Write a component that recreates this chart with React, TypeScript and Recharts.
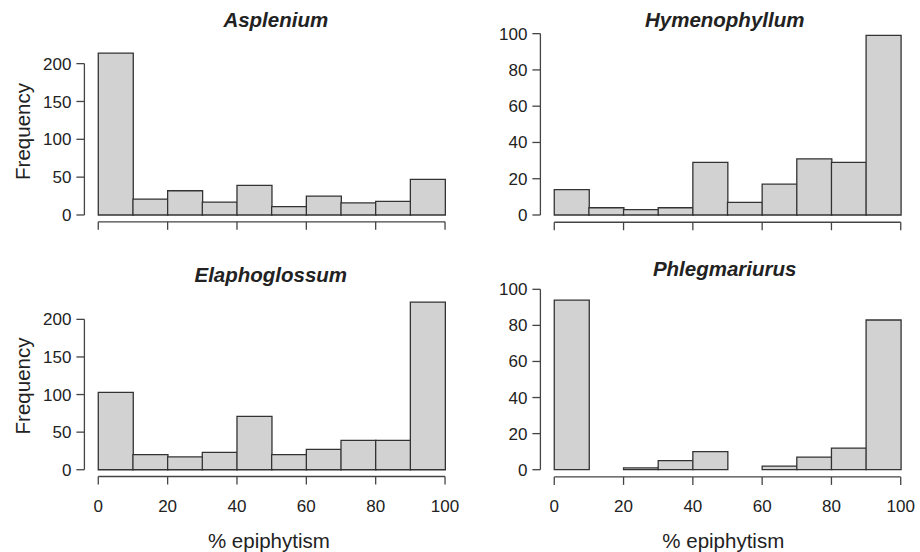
import React from 'react';
import { Bar, BarChart, ReferenceLine, XAxis, YAxis } from 'recharts';

// bin mid points (% epiphytism), 10-wide bins
const binMids = [5, 15, 25, 35, 45, 55, 65, 75, 85, 95];
const xTicks = [0, 20, 40, 60, 80, 100];
const leftTicks = [0, 50, 100, 150, 200];
const rightTicks = [0, 20, 40, 60, 80, 100];

const asplenium = [214, 21, 32, 17, 39, 11, 25, 16, 18, 47];
const hymenophyllum = [14, 4, 3, 4, 29, 7, 17, 31, 29, 99];
const elaphoglossum = [103, 20, 17, 23, 71, 20, 27, 39, 39, 223];
const phlegmariurus = [94, 0, 1, 5, 10, 0, 2, 7, 12, 83];

const FONT = '"Liberation Sans", Arial, Helvetica, sans-serif';
const TEXT = '#222';
const AXIS = '#444';
const BAR_FILL = '#d2d2d2';
const BAR_STROKE = '#333';

interface HistProps {
    values: number[];
    yTicks: number[];
    yMax: number;
    left: number;
    top: number;
    width: number;
    height: number;
    margin: { top: number; right: number; bottom: number; left: number };
    yAxisWidth: number;
    showXLabels: boolean;
}

// keeps the tick marks but draws no label (top row)
const NoLabel = () => <g />;

function Histogram({ values, yTicks, yMax, left, top, width, height, margin, yAxisWidth, showXLabels }: HistProps) {
    const data = binMids.map((mid, i) => ({ mid, count: values[i] }));
    // R style: plot region extends 4% beyond the data range
    const pad = yMax * 0.04;
    const tickStyle = { fill: TEXT, fontSize: 17, fontFamily: FONT };

    return (
        <div style={{ position: 'absolute', left, top }}>
            <BarChart width={width} height={height} data={data} margin={margin} barCategoryGap={0} barGap={0}>
                <XAxis
                    dataKey="mid"
                    type="number"
                    domain={[-4, 104]}
                    allowDataOverflow
                    ticks={xTicks}
                    interval={0}
                    height={30}
                    axisLine={false}
                    tickLine={{ stroke: AXIS, strokeWidth: 1.3 }}
                    tickSize={8}
                    tickMargin={15}
                    tick={showXLabels ? tickStyle : NoLabel}
                />
                <YAxis
                    type="number"
                    domain={[-pad, yMax + pad]}
                    allowDataOverflow
                    ticks={yTicks}
                    interval={0}
                    width={yAxisWidth}
                    axisLine={false}
                    tickLine={{ stroke: AXIS, strokeWidth: 1.3 }}
                    tickSize={8}
                    tickMargin={5}
                    tick={tickStyle}
                />
                <Bar
                    dataKey="count"
                    fill={BAR_FILL}
                    stroke={BAR_STROKE}
                    strokeWidth={1.3}
                    isAnimationActive={false}
                />
                <ReferenceLine
                    segment={[{ x: -4, y: yTicks[0] }, { x: -4, y: yTicks[yTicks.length - 1] }]}
                    stroke={AXIS}
                    strokeWidth={1.3}
                    ifOverflow="visible"
                />
                <ReferenceLine
                    segment={[{ x: xTicks[0], y: -pad }, { x: xTicks[xTicks.length - 1], y: -pad }]}
                    stroke={AXIS}
                    strokeWidth={1.3}
                    ifOverflow="visible"
                />
            </BarChart>
        </div>
    );
}

export default function App() {
    const titleStyle = { fontFamily: FONT, fontSize: 20.5, fontWeight: 700, fontStyle: 'italic', fill: TEXT } as const;
    const labelStyle = { fontFamily: FONT, fontSize: 20.5, fill: TEXT } as const;

    return (
        <div style={{ position: 'absolute', left: 0, top: 0, width: 920, height: 552, background: '#fff' }}>
            <Histogram
                values={asplenium}
                yTicks={leftTicks}
                yMax={225}
                left={0}
                top={0}
                width={460}
                height={260}
                margin={{ top: 37.9, right: 1.1, bottom: 8.2, left: 0 }}
                yAxisWidth={84.4}
                showXLabels={false}
            />
            <Histogram
                values={hymenophyllum}
                yTicks={rightTicks}
                yMax={100}
                left={460}
                top={0}
                width={460}
                height={260}
                margin={{ top: 26.4, right: 5.4, bottom: 7.75, left: 0 }}
                yAxisWidth={80.4}
                showXLabels={false}
            />
            <Histogram
                values={elaphoglossum}
                yTicks={leftTicks}
                yMax={225}
                left={0}
                top={260}
                width={460}
                height={292}
                margin={{ top: 33.8, right: 1.1, bottom: 45.5, left: 0 }}
                yAxisWidth={84.4}
                showXLabels
            />
            <Histogram
                values={phlegmariurus}
                yTicks={rightTicks}
                yMax={100}
                left={460}
                top={260}
                width={460}
                height={292}
                margin={{ top: 22.1, right: 5.4, bottom: 45.1, left: 0 }}
                yAxisWidth={80.4}
                showXLabels
            />
            <svg width={920} height={552} style={{ position: 'absolute', left: 0, top: 0, pointerEvents: 'none' }}>
                <text x={275.8} y={26.7} textAnchor="middle" style={titleStyle}>Asplenium</text>
                <text x={724.7} y={26.7} textAnchor="middle" style={titleStyle}>Hymenophyllum</text>
                <text x={270.8} y={281.7} textAnchor="middle" style={titleStyle}>Elaphoglossum</text>
                <text x={724.7} y={276} textAnchor="middle" style={titleStyle}>Phlegmariurus</text>
                <text x={30} y={131.5} textAnchor="middle" transform="rotate(-90 30 131.5)" style={labelStyle}>Frequency</text>
                <text x={30} y={386} textAnchor="middle" transform="rotate(-90 30 386)" style={labelStyle}>Frequency</text>
                <text x={268.9} y={547.7} textAnchor="middle" style={labelStyle}>% epiphytism</text>
                <text x={723.3} y={547.7} textAnchor="middle" style={labelStyle}>% epiphytism</text>
            </svg>
        </div>
    );
}
